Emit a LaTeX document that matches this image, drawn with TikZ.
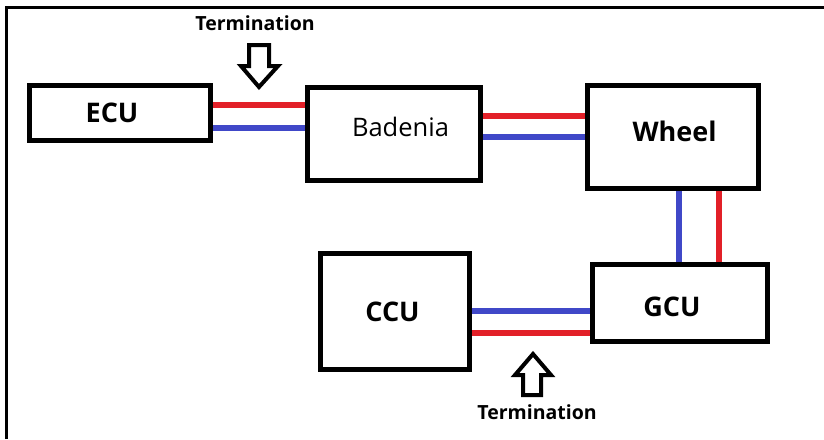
\documentclass[tikz,border=0pt]{standalone}
\usepackage{fontspec}
\setmainfont{Open Sans}
\definecolor{wred}{RGB}{226,32,40}
\definecolor{wblue}{RGB}{64,72,200}
\begin{document}
\begin{tikzpicture}[x=1pt,y=-1pt,
  box/.style={draw, line width=5pt, fill=white, inner sep=0pt},
  bigb/.style={font=\fontsize{27}{30}\selectfont\bfseries},
  plain/.style={font=\fontsize{25.5}{28}\selectfont},
  term/.style={font=\fontsize{19.5}{22}\selectfont\bfseries, inner sep=0pt},
  redw/.style={draw=wred, line width=6pt},
  bluew/.style={draw=wblue, line width=6pt},
  blockarrow/.style={draw, line width=4pt, line join=miter, fill=white}]
\useasboundingbox (0,0) rectangle (824,439);
% frame
\draw[line width=3pt] (6.5,439) -- (6.5,7) -- (824,7);
% boxes
\node[box, minimum width=181pt, minimum height=55pt,
  label={[bigb, shift={(-8,0)}]center:ECU}] (ecu) at (120,113) {};
\node[box, minimum width=173pt, minimum height=93pt,
  label={[plain, shift={(6.5,-7)}]center:Badenia}] (bad) at (394,134) {};
\node[box, minimum width=171pt, minimum height=103pt,
  label={[bigb, shift={(1.5,-6)}]center:Wheel}] (whl) at (673,137) {};
\node[box, minimum width=149pt, minimum height=116pt,
  label={[bigb, shift={(-2.5,0)}]center:CCU}] (ccu) at (395,311.5) {};
\node[box, minimum width=175pt, minimum height=77pt,
  label={[bigb, shift={(-8,4)}]center:GCU}] (gcu) at (680,303) {};
% wires
\draw[redw]  (ecu.east |- 0,105) -- (bad.west |- 0,105);
\draw[bluew] (ecu.east |- 0,128) -- (bad.west |- 0,128);
\draw[redw]  (bad.east |- 0,116) -- (whl.west |- 0,116);
\draw[bluew] (bad.east |- 0,137) -- (whl.west |- 0,137);
\draw[bluew] (whl.south -| 679,0) -- (gcu.north -| 679,0);
\draw[redw]  (whl.south -| 719,0) -- (gcu.north -| 719,0);
\draw[bluew] (ccu.east |- 0,311) -- (gcu.west |- 0,311);
\draw[redw]  (ccu.east |- 0,333) -- (gcu.west |- 0,333);
% termination arrows
\node[term] (t1) at (255,23) {Termination};
\draw[blockarrow] (249,45) -- (269,45) -- (269,66) -- (278,66) -- (259,87)
  -- (241,66) -- (249,66) -- cycle;
\node[term] (t2) at (537,412) {Termination};
\draw[blockarrow] (523,395) -- (541,395) -- (541,375) -- (551,375) -- (533,354)
  -- (515,375) -- (523,375) -- cycle;
\end{tikzpicture}
\end{document}
